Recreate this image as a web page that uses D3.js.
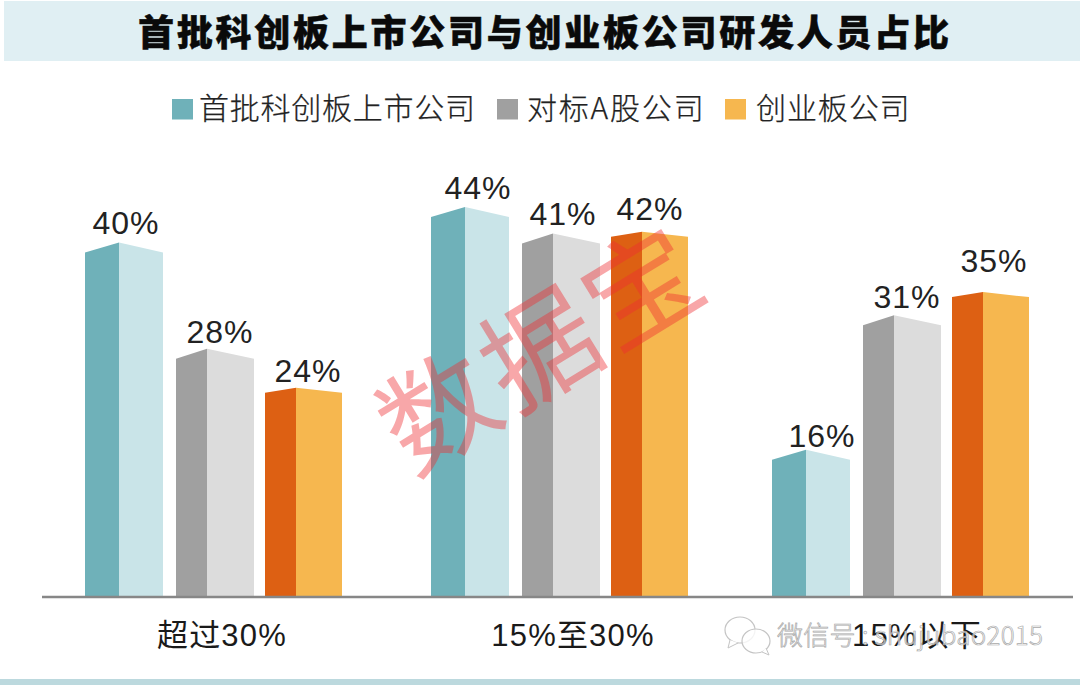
<!DOCTYPE html>
<html><head><meta charset="utf-8">
<script src="https://cdn.jsdelivr.net/npm/d3@7/dist/d3.min.js"></script>
<style>html,body{margin:0;padding:0;background:#fff}svg{display:block}</style>
</head><body><svg id="c" width="1080" height="686"></svg>
<script>
// ---- data ----
const title = "首批科创板上市公司与创业板公司研发人员占比";
const categories = ["超过30%", "15%至30%", "15%以下"];
const seriesNames = ["首批科创板上市公司", "对标A股公司", "创业板公司"];
const labelFirst = [40, 44, 16];
const labelPeer = [28, 41, 31];
const labelGem = [24, 42, 35];
// bar heights (the drawn bars differ slightly from their printed labels)
const heightFirst = [40, 44, 16.6];
const heightPeer = [28, 41, 31.8];
const heightGem = [23.6, 41.2, 34.4];
const watermark = "数据宝";
const wechat = "微信号 : shujubao2015";

// ---- layout ----
const svg = d3.select("#c");
const CJK = "'Noto Sans CJK SC','Noto Sans',sans-serif";
const LAT = "'Liberation Sans',Arial,'Noto Sans CJK SC',sans-serif";
const y = d3.scaleLinear().domain([0, 44]).range([597, 207]);
const xGroup = d3.scaleOrdinal().domain(categories).range([85, 431, 772]);
const xSeries = d3.scaleOrdinal().domain(seriesNames).range([0, 91, 180]);
const ridge = d3.scaleOrdinal().domain(seriesNames).range([34, 31, 31]);
const width = d3.scaleOrdinal().domain(seriesNames).range([78, 78, 77]);
const roof = d3.scaleOrdinal().domain(seriesNames).range([10, 10, 5]);
const dark = d3.scaleOrdinal().domain(seriesNames).range(["#6fb1b9", "#a0a0a0", "#dd6013"]);
const light = d3.scaleOrdinal().domain(seriesNames).range(["#c9e4e8", "#dcdcdc", "#f6b74f"]);
const labelGap = [[8, 8, 3], [6, 9, 7], [6, 12, 20]];
const labelShift = [[0, 6, 9], [3, 0, 3], [2, -2, 1]];

const heights = [heightFirst, heightPeer, heightGem];
const labels = [labelFirst, labelPeer, labelGem];
const bars = seriesNames.flatMap((s, si) => categories.map((c, ci) => ({
  s, c, si, ci, h: heights[si][ci], label: labels[si][ci]
})));

// header
svg.append("rect").attr("x", 4).attr("y", 1).attr("width", 1076).attr("height", 60).attr("fill", "#e0eff3");
svg.append("text").text(title).attr("x", 545).attr("y", 46).attr("text-anchor", "middle")
  .attr("font-family", CJK).attr("font-weight", 900).attr("font-size", 36).attr("letter-spacing", 2.75)
  .attr("fill", "#0a0a0a").attr("stroke", "#0a0a0a").attr("stroke-width", 0.5);
svg.append("rect").attr("x", 0).attr("y", 679).attr("width", 1080).attr("height", 6).attr("fill", "#bcd9de");

// legend
const legX = d3.scaleOrdinal().domain(seriesNames).range([172, 497, 725]);
const legText = d3.scaleOrdinal().domain(seriesNames).range([199, 527, 756]);
const legSpace = d3.scaleOrdinal().domain(seriesNames).range([0.75, 1.8, 0.9]);
const leg = svg.append("g").selectAll("g").data(seriesNames).join("g");
leg.append("rect").attr("x", d => legX(d)).attr("y", 99).attr("width", 21).attr("height", 20.5).attr("fill", d => dark(d) === "#dd6013" ? "#f6b74f" : dark(d));
leg.append("text").text(d => d).attr("x", d => legText(d)).attr("y", 119)
  .attr("font-family", CJK).attr("font-weight", 300).attr("font-size", 30).attr("letter-spacing", d => legSpace(d)).attr("fill", "#222")
  .attr("stroke", "#222").attr("stroke-width", 0.25);

// bars
const g = svg.append("g").selectAll("g").data(bars).join("g");
const L = d => xGroup(d.c) + xSeries(d.s);
g.append("polygon").attr("fill", d => dark(d.s))
  .attr("points", d => [[L(d), y(0)], [L(d), y(d.h) + roof(d.s)], [L(d) + ridge(d.s), y(d.h)], [L(d) + ridge(d.s), y(0)]].join(" "));
g.append("polygon").attr("fill", d => light(d.s))
  .attr("points", d => [[L(d) + ridge(d.s), y(0)], [L(d) + ridge(d.s), y(d.h)], [L(d) + width(d.s), y(d.h) + roof(d.s)], [L(d) + width(d.s), y(0)]].join(" "));
g.append("text").text(d => d.label + "%").attr("x", d => L(d) + 41 + labelShift[d.si][d.ci]).attr("y", d => y(d.h) - labelGap[d.si][d.ci])
  .attr("text-anchor", "middle").attr("font-family", LAT).attr("font-size", 32).attr("letter-spacing", 1).attr("fill", "#222");

// axis line and category labels
const catCx = d3.scaleOrdinal().domain(categories).range([222, 573, 917]);
svg.append("line").attr("x1", 42).attr("x2", 1073).attr("y1", 597).attr("y2", 597).attr("stroke", "#878787").attr("stroke-width", 2.4);
svg.append("g").selectAll("text").data(categories).join("text").text(d => d)
  .attr("x", d => catCx(d)).attr("y", 646).attr("text-anchor", "middle")
  .attr("font-family", LAT).attr("font-size", 31).attr("letter-spacing", 1.2).attr("fill", "#1a1a1a");

// red watermark
svg.append("text").text(watermark).attr("transform", "translate(564,384) rotate(-31.5)")
  .attr("text-anchor", "middle").attr("font-family", CJK).attr("font-weight", 400).attr("font-size", 114)
  .attr("letter-spacing", 5).attr("fill", "rgba(238,45,50,0.42)");

// wechat watermark
const wm = svg.append("g");
[[740, 630, 15, 13], [756, 641, 14, 12]].forEach(e => {
  wm.append("ellipse").attr("cx", e[0]).attr("cy", e[1]).attr("rx", e[2]).attr("ry", e[3])
    .attr("fill", "rgba(255,255,255,0.8)").attr("stroke", "#c4c4c4").attr("stroke-width", 1.2);
});
wm.append("path").attr("d", d3.line()([[730, 640], [728, 648], [738, 643]])).attr("fill", "#fff").attr("stroke", "#c4c4c4");
wm.append("path").attr("d", d3.line()([[762, 652], [769, 655], [766, 648]])).attr("fill", "#fff").attr("stroke", "#c4c4c4");
wm.append("text").text(wechat).attr("x", 777).attr("y", 645)
  .attr("font-family", CJK).attr("font-weight", 300).attr("font-size", 26).attr("letter-spacing", 0.3).attr("fill", "rgba(255,255,255,0.65)").attr("stroke", "#a8a8a8").attr("stroke-width", 0.7);
</script></body></html>
